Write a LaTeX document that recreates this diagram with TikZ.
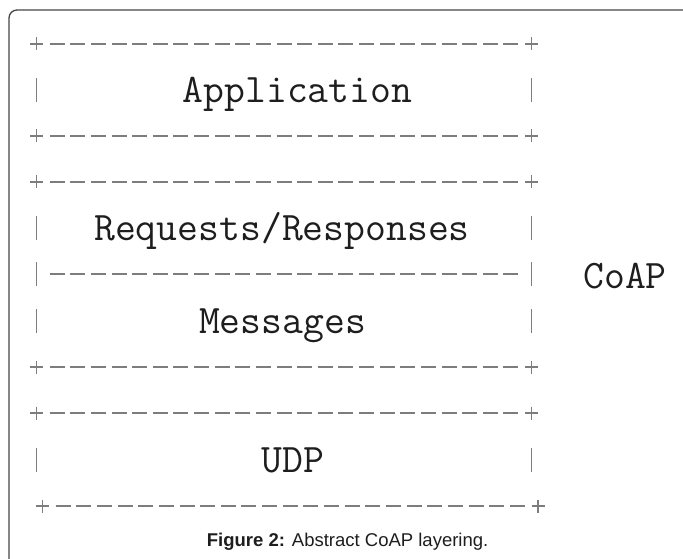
\documentclass[tikz,border=0pt]{standalone}
\usepackage{fontspec}
\newfontfamily\capfont{Liberation Sans}
\definecolor{artgray}{RGB}{125,125,125}
\definecolor{bordergray}{RGB}{70,70,70}
\definecolor{inkcol}{RGB}{30,30,30}
\newcommand\dashrow[3]{% y, xleft, xright
  \foreach \k in {1,...,23}{\draw[artdash] ({#2+(#3-#2)*\k/24-7.5},#1) -- ++(15,0);}}
\newcommand\plusmark[2]{\draw[artthin] (#1-6.5,#2) -- (#1+6.5,#2) (#1,#2-6.5) -- (#1,#2+6.5);}
\newcommand\barmark[2]{\draw[artthin] (#1,#2-12) -- (#1,#2+12);}
\newcommand\plusrow[3]{\plusmark{#2}{#1}\plusmark{#3}{#1}\dashrow{#1}{#2}{#3}}
\begin{document}
\begin{tikzpicture}[x=1pt,y=-1pt,
  artdash/.style={draw=artgray,line width=1.9pt},
  artthin/.style={draw=artgray,line width=1.5pt},
  lbl/.style={font=\fontsize{40.5}{48}\selectfont\ttfamily,text=inkcol,anchor=base,inner sep=0pt},
  captext/.style={font=\capfont\fontsize{18.5}{22}\selectfont,text=inkcol,anchor=base east,inner sep=0pt}]
\useasboundingbox (0,0) rectangle (683,559);
\fill[white] (0,0) rectangle (683,559);
\draw[draw=bordergray,line width=1.3pt,rounded corners=8pt] (9,10) rectangle (700,580);
% rows: y = 44 + 46 n
\plusrow{44}{36.5}{531.5}
\barmark{36.5}{90}\barmark{531.5}{90}
\plusrow{136}{36.5}{531.5}
\plusrow{182}{36.5}{531.5}
\barmark{36.5}{228}\barmark{531.5}{228}
\barmark{36.5}{274}\barmark{531.5}{274}\dashrow{274}{36.5}{531.5}
\barmark{36.5}{321}\barmark{531.5}{321}
\plusrow{367}{36.5}{531.5}
\plusrow{413}{36.5}{531.5}
\barmark{36.5}{460}\barmark{531.5}{460}
\plusrow{506}{42.5}{538}
% labels
\node[lbl] (app) at (297.5,102.4) {Application};
\node[lbl] (req) at (282,240.4) {Requests/Responses};
\node[lbl] (msg) at (282.5,333.4) {Messages};
\node[lbl] (udp) at (293,472.4) {UDP};
\node[lbl] (coap) at (625,288.4) {CoAP};
\node[captext] (caption) at (488.5,546) {\textbf{Figure 2:} Abstract CoAP layering.};
\end{tikzpicture}
\end{document}
